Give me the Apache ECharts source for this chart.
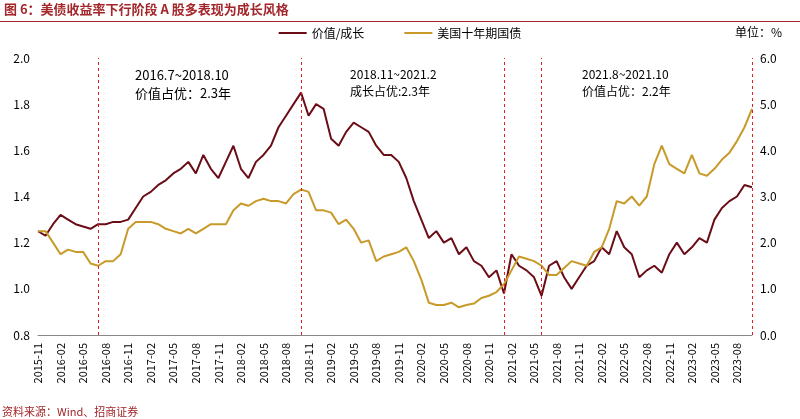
<!DOCTYPE html>
<html><head><meta charset="utf-8">
<script src="https://cdn.jsdelivr.net/npm/echarts@6/dist/echarts.min.js"></script>
<style>body{margin:0}#c{width:800px;height:419px}</style></head>
<body><div id="c"></div>
<script>
// monthly categories 2015-11 .. 2023-10
const months = [];
for (let y = 2015, m = 11; y < 2023 || (y === 2023 && m <= 10); m++) {
  if (m > 12) { m = 1; y++; }
  months.push(y + '-' + String(m).padStart(2, '0'));
}
const valueGrowth = [1.25,1.23,1.28,1.32,1.30,1.28,1.27,1.26,1.28,1.28,1.29,1.29,1.30,1.35,1.40,1.42,1.45,1.47,1.50,1.52,1.55,1.50,1.58,1.52,1.48,1.55,1.62,1.52,1.48,1.55,1.58,1.62,1.70,1.75,1.80,1.85,1.75,1.80,1.78,1.65,1.62,1.68,1.72,1.70,1.68,1.62,1.58,1.58,1.55,1.48,1.38,1.30,1.22,1.25,1.20,1.22,1.15,1.18,1.12,1.10,1.05,1.08,0.98,1.15,1.10,1.08,1.05,0.97,1.10,1.12,1.05,1.00,1.05,1.10,1.12,1.18,1.15,1.25,1.18,1.15,1.05,1.08,1.10,1.07,1.15,1.20,1.15,1.18,1.22,1.20,1.30,1.35,1.38,1.40,1.45,1.44];
const us10y = [2.25,2.25,2.0,1.75,1.85,1.8,1.8,1.55,1.5,1.6,1.6,1.75,2.3,2.45,2.45,2.45,2.4,2.3,2.25,2.2,2.3,2.2,2.3,2.4,2.4,2.4,2.7,2.85,2.8,2.9,2.95,2.9,2.9,2.85,3.05,3.15,3.1,2.7,2.7,2.65,2.4,2.5,2.3,2.0,2.05,1.6,1.7,1.75,1.8,1.9,1.6,1.2,0.7,0.65,0.65,0.7,0.6,0.65,0.68,0.8,0.85,0.93,1.1,1.4,1.7,1.65,1.6,1.5,1.3,1.3,1.45,1.6,1.55,1.5,1.8,1.9,2.3,2.9,2.85,3.0,2.8,3.0,3.7,4.1,3.7,3.6,3.5,3.9,3.5,3.45,3.6,3.8,3.95,4.2,4.5,4.9];
const splitMonths = ['2016-07','2018-10','2021-01','2021-06','2023-10'];

const chart = echarts.init(document.getElementById('c'));
const font = '"Noto Sans CJK SC", sans-serif';
chart.setOption({
  textStyle: { fontFamily: font },
  grid: { left: 38, right: 48, top: 58, bottom: 84 },
  legend: {
    top: 22, left: 'center', itemWidth: 28, itemHeight: 2, itemGap: 40,
    textStyle: { fontSize: 12, color: '#000' },
    data: [{ name: '价值/成长', icon: 'rect' }, { name: '美国十年期国债', icon: 'rect' }]
  },
  xAxis: {
    type: 'category', data: months, boundaryGap: false,
    axisLine: { lineStyle: { color: '#888' } },
    axisTick: { show: false },
    axisLabel: { interval: 2, rotate: 90, fontSize: 11, color: '#000' }
  },
  yAxis: [
    { type: 'value', min: 0.8, max: 2.0, interval: 0.2, splitLine: { show: false },
      axisLine: { show: false }, axisLabel: { fontSize: 12, color: '#000', formatter: v => v.toFixed(1) } },
    { type: 'value', min: 0, max: 6, interval: 1, splitLine: { show: false },
      axisLine: { show: false }, axisLabel: { fontSize: 12, color: '#000', formatter: v => v.toFixed(1) } }
  ],
  series: [
    { name: '价值/成长', type: 'line', data: valueGrowth, symbol: 'none',
      lineStyle: { color: '#6b0d17', width: 2 }, itemStyle: { color: '#6b0d17' },
      markLine: { symbol: 'none', silent: true, label: { show: false },
        lineStyle: { color: '#e02020', type: [3, 3], width: 1 },
        data: splitMonths.map(m => ({ xAxis: m })) } },
    { name: '美国十年期国债', type: 'line', yAxisIndex: 1, data: us10y, symbol: 'none',
      lineStyle: { color: '#c89a2a', width: 2 }, itemStyle: { color: '#c89a2a' } }
  ],
  graphic: [
    { type: 'text', left: 4, top: 3, style: { text: '图 6：美债收益率下行阶段 A 股多表现为成长风格', fill: '#a2262a', font: 'bold 13px ' + font } },
    { type: 'rect', shape: { x: 0, y: 21, width: 800, height: 1 }, style: { fill: '#a2262a' } },
    { type: 'text', right: 18, top: 26, style: { text: '单位：%', fill: '#000', font: '12px ' + font } },
    { type: 'text', left: 135, top: 66, style: { text: '2016.7~2018.10\n价值占优：2.3年', fill: '#000', font: '13px ' + font, lineHeight: 18 } },
    { type: 'text', left: 350, top: 66, style: { text: '2018.11~2021.2\n成长占优:2.3年', fill: '#000', font: '12px ' + font, lineHeight: 17 } },
    { type: 'text', left: 582, top: 66, style: { text: '2021.8~2021.10\n价值占优：2.2年', fill: '#000', font: '12px ' + font, lineHeight: 17 } },
    { type: 'text', left: 2, bottom: 2, style: { text: '资料来源：Wind、招商证券', fill: '#a2262a', font: '11px ' + font } }
  ]
});
</script></body></html>
